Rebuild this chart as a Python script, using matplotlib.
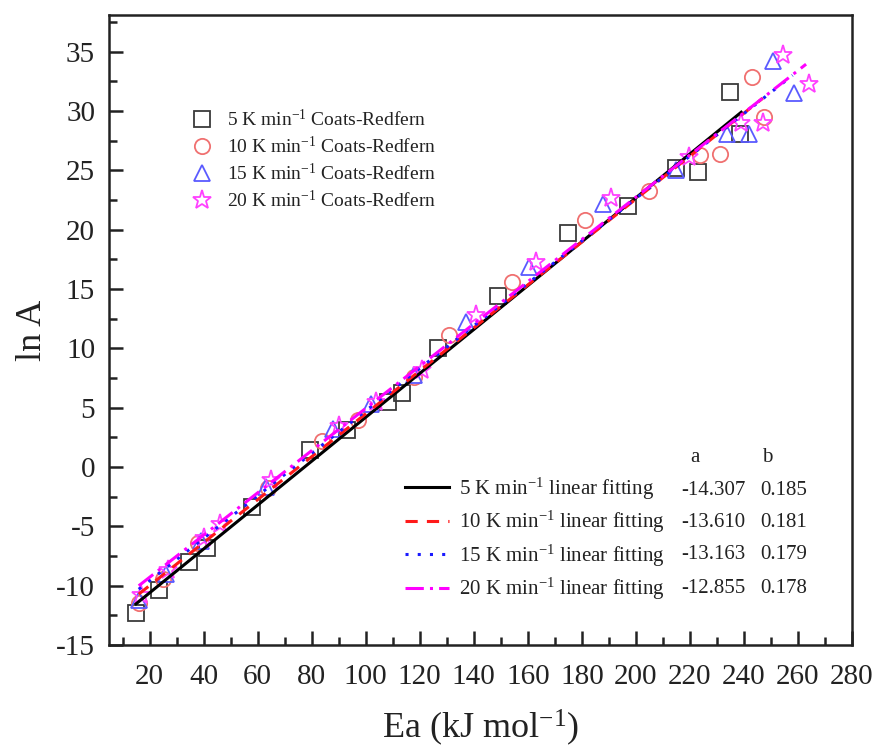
import numpy as np
import matplotlib
matplotlib.use("Agg")
import matplotlib.pyplot as plt
from matplotlib.ticker import MultipleLocator

plt.rcParams["font.family"] = ["Liberation Serif", "DejaVu Serif"]
plt.rcParams["mathtext.default"] = "regular"
plt.rcParams["axes.unicode_minus"] = False

# Coats-Redfern points (Ea in kJ/mol, ln A) per heating rate
ea_5 = [15.0, 23.5, 34.7, 41.3, 58.0, 79.5, 93.2, 108.1, 113.6, 126.6, 148.8,
        174.7, 197.0, 215.0, 223.0, 234.9, 238.6]
lnA_5 = [-12.3, -10.4, -8.0, -6.8, -3.4, 1.4, 3.1, 5.5, 6.25, 10.0, 14.4,
         19.7, 22.0, 25.2, 24.9, 31.6, 28.1]

ea_10 = [16.0, 25.0, 38.0, 64.0, 84.0, 97.0, 118.0, 131.0, 154.3, 181.1,
         204.9, 223.8, 231.2, 243.0, 247.5]
lnA_10 = [-11.5, -9.4, -6.4, -1.8, 2.2, 4.0, 7.6, 11.1, 15.6, 20.8,
          23.3, 26.3, 26.4, 32.9, 29.5]

ea_15 = [16.0, 26.0, 39.0, 63.0, 88.0, 102.0, 118.0, 137.0, 160.4, 187.8,
         214.9, 233.8, 242.0, 250.8, 258.6]
lnA_15 = [-11.2, -9.0, -6.2, -1.7, 3.2, 5.3, 7.8, 12.2, 16.9, 22.2,
          25.0, 28.1, 28.1, 34.2, 31.5]

ea_20 = [17.0, 27.0, 40.0, 46.0, 65.0, 90.0, 104.0, 121.0, 140.7, 163.0,
         190.8, 219.7, 239.0, 247.0, 254.5, 264.0]
lnA_20 = [-10.8, -8.7, -6.0, -4.8, -1.1, 3.5, 5.5, 8.2, 12.8, 17.3,
          22.7, 26.1, 29.0, 29.0, 34.7, 32.3]

# linear fits ln A = a + b * Ea
rates = ["5", "10", "15", "20"]
fit_a = [-14.307, -13.610, -13.163, -12.855]
fit_b = [0.185, 0.181, 0.179, 0.178]
fit_start = [15.0, 16.0, 16.0, 16.0]
fit_end = [239.0, 247.0, 258.0, 263.0]

point_sets = [(ea_5, lnA_5), (ea_10, lnA_10), (ea_15, lnA_15), (ea_20, lnA_20)]
marker_styles = ["s", "o", "^", "*"]
marker_colors = ["#3a3a3a", "#f07070", "#5a5aff", "#ff40ff"]
marker_sizes = [11, 11, 12, 14]
line_colors = ["black", "#ff1a1a", "#1a1aff", "#ff00ff"]
line_styles = ["-", (0, (4, 3)), (0, (1, 3)), (0, (6, 2, 1, 2))]
ink = "#222222"

fig = plt.figure(figsize=(8.77, 7.53), dpi=100)
ax = fig.add_axes([0.1243, 0.1434, 0.8472, 0.8366])

scatter_handles = []
for (xs, ys), m, c, ms, r in zip(point_sets, marker_styles, marker_colors,
                                 marker_sizes, rates):
    h, = ax.plot(xs, ys, linestyle="none", marker=m, markersize=ms,
                 markerfacecolor="none", markeredgecolor=c, markeredgewidth=1.3,
                 label=f"{r} K min$^{{-1}}$ Coats-Redfern", zorder=3)
    scatter_handles.append(h)

line_handles = []
for a, b, x0, x1, c, ls, r in zip(fit_a, fit_b, fit_start, fit_end,
                                  line_colors, line_styles, rates):
    xs = np.array([x0, x1])
    h, = ax.plot(xs, a + b * xs, color=c, linestyle=ls, linewidth=2.2,
                 label=f"{r} K min$^{{-1}}$ linear fitting", zorder=4)
    line_handles.append(h)

ax.set_xlim(5, 280)
ax.set_ylim(-15, 38.1)
ax.set_xticks(np.arange(20, 281, 20))
ax.set_yticks(np.arange(-15, 36, 5))
ax.xaxis.set_minor_locator(MultipleLocator(10))
ax.yaxis.set_minor_locator(MultipleLocator(2.5))

ax.tick_params(which="both", direction="in", top=False, right=False,
               width=1.8, colors=ink, labelsize=21)
ax.tick_params(axis="x", pad=14)
ax.tick_params(axis="y", pad=10)
ax.tick_params(which="major", length=10)
ax.tick_params(which="minor", length=6)
for s in ax.spines.values():
    s.set_linewidth(1.8)
    s.set_color(ink)

ax.set_xlabel("Ea (kJ mol$^{-1}$)", fontsize=26, color=ink, labelpad=12)
ax.set_ylabel("ln A", fontsize=26, color=ink, labelpad=5)

leg1 = ax.legend(handles=scatter_handles, loc="upper left",
                 bbox_to_anchor=(0.112, 0.851), frameon=False, fontsize=14,
                 handlelength=1.0, handletextpad=0.8, labelspacing=0.30,
                 borderaxespad=0, borderpad=0)
for t in leg1.get_texts():
    t.set_color(ink)
ax.add_artist(leg1)

leg2 = ax.legend(handles=line_handles, loc="lower right",
                 bbox_to_anchor=(0.748, 0.068), frameon=False, fontsize=15,
                 handlelength=2.1, handletextpad=0.5, labelspacing=0.35,
                 borderaxespad=0, borderpad=0)
for t in leg2.get_texts():
    t.set_color(ink)

# fit parameter table beside the lower legend
col_a_x, col_b_x = 0.814, 0.908
row_y = [0.246, 0.194, 0.143, 0.0905]
ax.text(col_a_x - 0.025, 0.298, "a", transform=ax.transAxes, ha="center",
        va="center", fontsize=15, color=ink)
ax.text(col_b_x - 0.022, 0.298, "b", transform=ax.transAxes, ha="center",
        va="center", fontsize=15, color=ink)
for a, b, y in zip(fit_a, fit_b, row_y):
    ax.text(col_a_x, y, f"{a:.3f}", transform=ax.transAxes, ha="center",
            va="center", fontsize=15, color=ink)
    ax.text(col_b_x, y, f"{b:.3f}", transform=ax.transAxes, ha="center",
            va="center", fontsize=15, color=ink)

fig.savefig("out.png", dpi=100)
